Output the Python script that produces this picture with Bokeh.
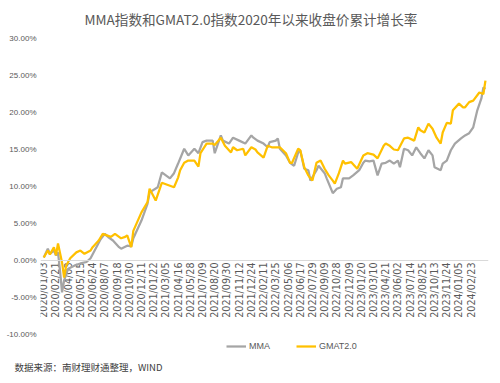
import math
from bokeh.plotting import figure
from bokeh.models import ColumnDataSource, Span, FixedTicker, Range1d, Title
from bokeh.core.properties import value
from bokeh.embed import file_html
from bokeh.resources import INLINE

title_text = "MMA指数和GMAT2.0指数2020年以来收盘价累计增长率"
source_text = "数据来源：南财理财通整理，WIND"

# category labels (one every 6 trading weeks)
tick_labels = ["2020/01/03", "2020/02/21", "2020/04/03", "2020/05/15", "2020/06/24",
               "2020/08/07", "2020/09/18", "2020/10/30", "2020/12/11", "2021/01/22",
               "2021/03/05", "2021/04/16", "2021/05/28", "2021/07/09", "2021/08/20",
               "2021/09/30", "2021/11/12", "2021/12/24", "2022/02/11", "2022/03/25",
               "2022/05/06", "2022/06/17", "2022/07/29", "2022/09/09", "2022/10/28",
               "2022/12/09", "2023/01/20", "2023/03/10", "2023/04/21", "2023/06/02",
               "2023/07/14", "2023/08/25", "2023/10/13", "2023/11/24", "2024/01/05",
               "2024/02/23"]
tick_step = 6  # weeks between labelled categories

# week index (since 2020/01/03) and cumulative growth in %
mma_weeks = [0, 2, 3, 5, 6, 7, 8, 9, 10, 12, 15, 18, 21, 23, 25, 28, 30, 32, 34, 37,
             38, 41, 43, 44, 48, 51, 52, 56, 58, 62, 64, 66, 69, 71, 74, 76, 78, 80, 83, 84,
             87, 88, 91, 93, 96, 99, 102, 103, 105, 108, 110, 111, 114, 115, 116, 119, 121, 123, 125, 126,
             128, 130, 131, 134, 135, 138, 139, 142, 144, 146, 147, 150, 152, 155, 157, 158, 160, 162, 164, 166,
             168, 170, 172, 174, 175, 177, 179, 181, 183, 185, 187, 189, 191, 192, 195, 196, 198, 200, 202, 205,
             207, 209, 211, 213, 215, 216, 217]
mma_vals = [0.4, 1.6, 0.9, 1.35, 0.7, 1.1, -1.4, -4.3, -2.7, -1.1, -0.7, -0.4, -0.2, 0.3, 1.35, 2.9, 3.6, 3.1, 2.7, 1.8,
            1.6, 2.0, 1.9, 3.0, 5.4, 7.7, 9.2, 9.9, 11.9, 11.1, 11.8, 13.1, 15.1, 14.2, 15.1, 14.5, 16.0, 16.2, 16.2, 14.5,
            16.9, 16.2, 15.8, 16.6, 16.2, 15.8, 16.9, 16.6, 16.2, 15.8, 15.3, 16.0, 16.2, 16.5, 15.1, 14.2, 13.2, 12.8, 14.6, 14.9,
            12.4, 12.2, 10.8, 12.2, 12.8, 11.8, 11.1, 9.1, 9.7, 9.9, 11.1, 11.1, 11.5, 12.2, 13.2, 13.5, 13.4, 13.5, 11.5, 13.1,
            13.2, 13.5, 13.1, 13.5, 12.6, 15.1, 14.9, 14.2, 15.3, 14.5, 13.8, 14.9, 14.2, 12.6, 12.2, 13.1, 13.5, 14.9, 15.8, 16.5,
            16.9, 17.2, 18.0, 20.3, 21.9, 23.4, 23.2]

gmat_weeks = [0, 2, 3, 5, 6, 7, 9, 10, 11, 13, 16, 18, 20, 23, 24, 27, 29, 31, 33, 35,
              38, 40, 41, 43, 44, 48, 51, 52, 55, 58, 62, 64, 66, 67, 69, 71, 74, 76, 77, 80,
              83, 84, 87, 89, 92, 93, 95, 98, 99, 102, 104, 105, 108, 110, 112, 115, 116, 119, 121, 122,
              125, 126, 128, 130, 131, 132, 134, 136, 138, 140, 142, 143, 145, 147, 148, 151, 154, 157, 159, 162,
              164, 167, 168, 170, 172, 174, 177, 179, 182, 184, 185, 187, 189, 191, 193, 195, 196, 198, 200, 201,
              204, 206, 207, 209, 211, 214, 216, 217]
gmat_vals = [0.4, 1.35, 0.8, 1.8, 0.7, 2.3, -0.3, -2.3, -0.7, 0.3, 1.1, 1.35, 0.9, 1.35, 1.8, 2.7, 3.6, 3.4, 3.2, 3.6,
             3.0, 3.2, 3.4, 1.8, 4.0, 6.5, 7.9, 9.7, 8.1, 10.5, 10.1, 9.9, 11.2, 12.2, 13.2, 13.5, 13.5, 12.7, 14.5, 15.8,
             15.8, 15.6, 16.6, 15.5, 14.6, 15.3, 14.9, 15.1, 14.2, 15.3, 15.0, 14.6, 13.9, 15.5, 15.3, 15.3, 15.3, 14.5, 13.2, 13.2,
             15.1, 14.9, 12.6, 11.5, 11.1, 10.8, 13.2, 13.5, 12.4, 11.5, 10.8, 10.4, 11.8, 13.5, 13.1, 13.3, 12.4, 14.2, 14.5, 14.3,
             13.8, 15.5, 15.8, 15.5, 15.0, 14.9, 16.5, 16.6, 16.2, 18.0, 17.6, 17.3, 18.5, 17.8, 16.6, 15.8, 17.3, 18.6, 18.5, 20.3,
             21.2, 20.7, 20.7, 21.4, 21.6, 22.7, 22.5, 24.3]

y_ticks = [-10, -5, 0, 5, 10, 15, 20, 25, 30]

LABEL_COLOR = "#595959"

# layout (pixels): value axis spans 30% .. -10% over 296 px; the frame extends
# below -10% to hold the legend
W, H = 500, 383
TOP, BOTTOM_BORDER, LEFT, RIGHT = 38, 27, 40, 12
PX_PER_UNIT = 296 / 40.0
frame_h = H - TOP - BOTTOM_BORDER
y_lo = max(y_ticks) - frame_h / PX_PER_UNIT

p = figure(width=W, height=H, output_backend="svg", toolbar_location=None,
           x_axis_type=None,
           x_range=Range1d(-1.6, 218.5), y_range=Range1d(y_lo, max(y_ticks)),
           min_border_left=LEFT, min_border_right=RIGHT,
           min_border_top=TOP, min_border_bottom=BOTTOM_BORDER)
p.styles = {"outline": "1px solid #d9d9d9", "outline-offset": "-2px", "border-radius": "3px"}

p.title.text = title_text
p.title.align = "left"
p.title.offset = 44
p.title.vertical_align = "top"
p.title.standoff = 16
p.title.text_font = "Noto Sans CJK SC"
p.title.text_font_size = "13.6px"
p.title.text_font_style = "normal"
p.title.text_color = LABEL_COLOR

p.outline_line_color = None
p.ygrid.visible = False

p.yaxis.ticker = FixedTicker(ticks=y_ticks)
p.yaxis.major_label_overrides = {t: f"{t:.2f}%" for t in y_ticks}
p.yaxis.axis_line_color = None
p.yaxis.major_tick_line_color = None
p.yaxis.minor_tick_line_color = None
p.yaxis.major_tick_out = 0
p.yaxis.major_label_standoff = 4
p.yaxis.major_label_text_font = "Liberation Sans"
p.yaxis.major_label_text_font_size = "8px"
p.yaxis.major_label_text_color = LABEL_COLOR

# horizontal category axis line at 0
p.add_layout(Span(location=0, dimension="width", line_color="#d9d9d9", line_width=1))

# category labels along the zero line
tick_x = [i * tick_step for i in range(len(tick_labels))]
tick_src = ColumnDataSource(dict(x=tick_x, y=[0] * len(tick_x), t=tick_labels))
p.text(x="x", y="y", text="t", source=tick_src, angle=math.pi / 2,
       text_align="right", text_baseline="middle", y_offset=2,
       text_font=value("DejaVu Sans"), text_font_size="9.6px", text_color=LABEL_COLOR)

p.line(mma_weeks, mma_vals, line_color="#A5A5A5", line_width=2.25, legend_label="MMA")
p.line(gmat_weeks, gmat_vals, line_color="#FFC000", line_width=2.25, legend_label="GMAT2.0")

lg = p.legend[0]
lg.orientation = "horizontal"
lg.location = (186, 4)
lg.glyph_width = 20
lg.glyph_height = 12
lg.label_height = 12
lg.label_standoff = 3
lg.spacing = 26
lg.padding = 0
lg.margin = 0
lg.border_line_alpha = 0
lg.background_fill_alpha = 0
lg.label_text_font = "Liberation Sans"
lg.label_text_font_size = "9px"
lg.label_text_color = LABEL_COLOR

p.add_layout(Title(text=source_text, align="left", offset=-26, standoff=3,
                   text_font="Noto Sans CJK SC", text_font_size="9.5px",
                   text_font_style="normal", text_color="#404040"), "below")

open("out.html", "w").write(file_html(p, INLINE))
